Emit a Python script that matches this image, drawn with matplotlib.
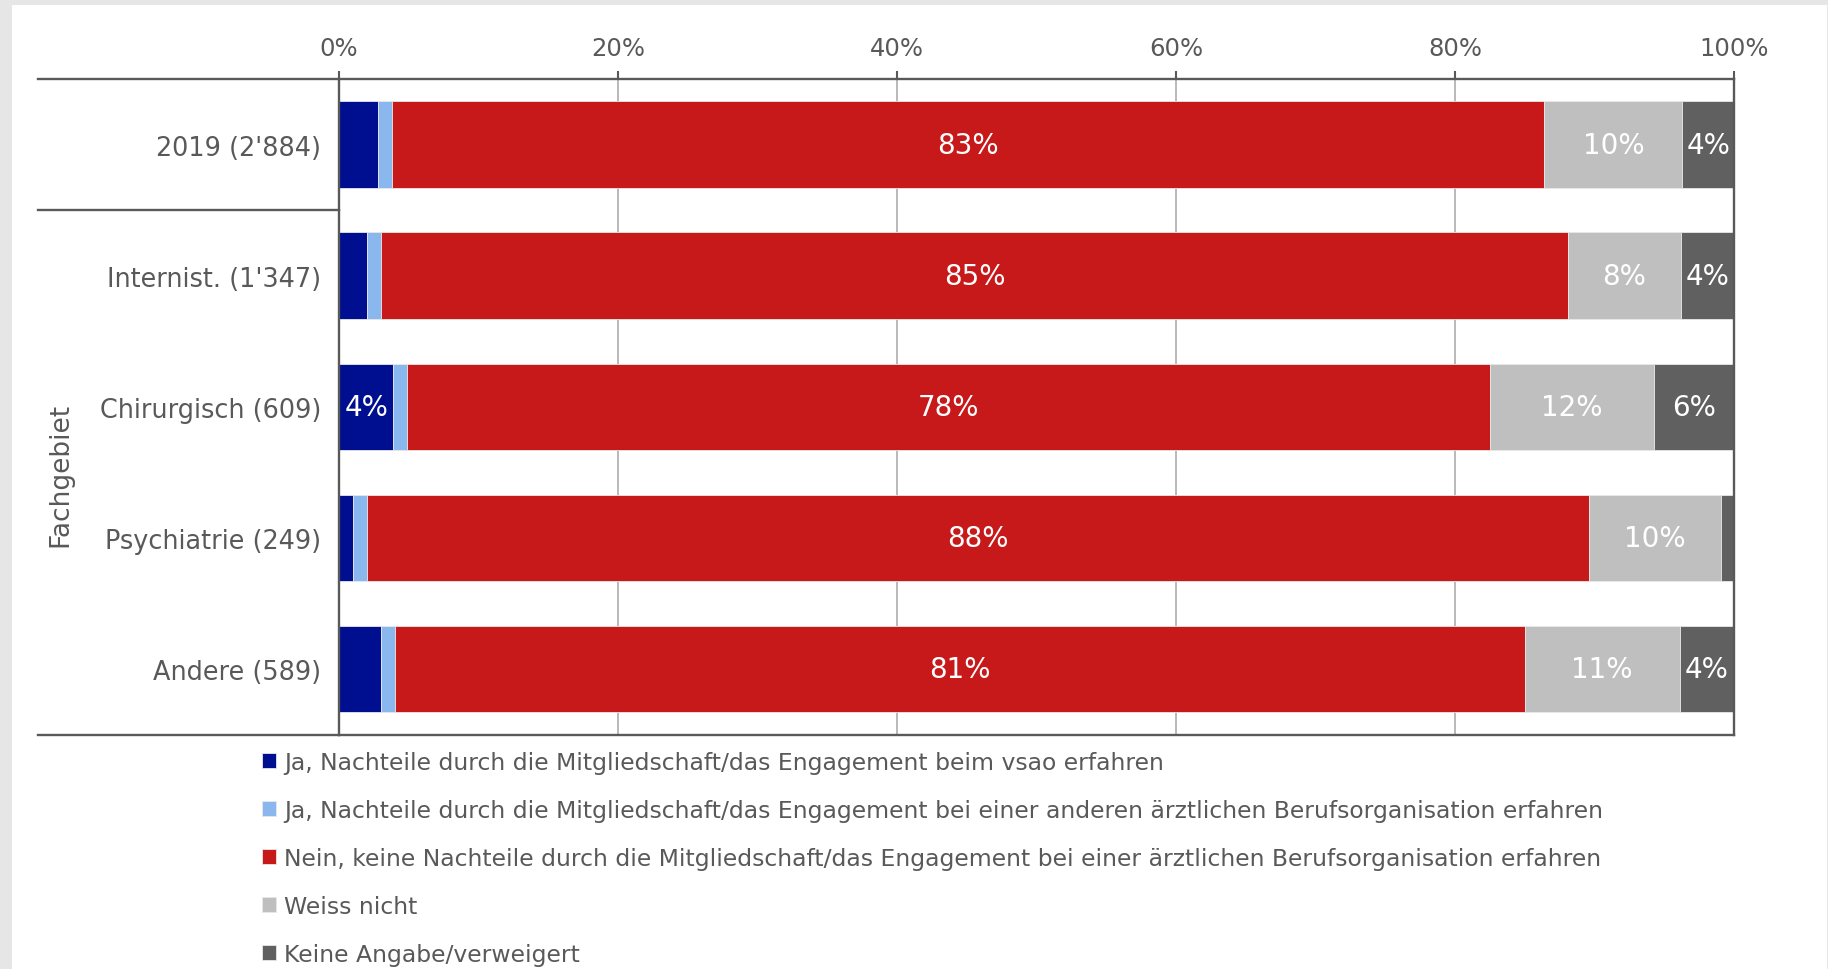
import matplotlib.pyplot as plt
from matplotlib.patches import Rectangle
from matplotlib.lines import Line2D

plt.rcParams['font.family'] = ['DejaVu Sans']

categories = ["2019 (2'884)", "Internist. (1'347)", "Chirurgisch (609)",
              "Psychiatrie (249)", "Andere (589)"]
series_names = [
    "Ja, Nachteile durch die Mitgliedschaft/das Engagement beim vsao erfahren",
    "Ja, Nachteile durch die Mitgliedschaft/das Engagement bei einer anderen ärztlichen Berufsorganisation erfahren",
    "Nein, keine Nachteile durch die Mitgliedschaft/das Engagement bei einer ärztlichen Berufsorganisation erfahren",
    "Weiss nicht",
    "Keine Angabe/verweigert",
]
ja_vsao = [2.8, 2.0, 3.9, 1.0, 3.0]
ja_andere = [1.0, 1.0, 1.0, 1.0, 1.0]
nein = [82.6, 85.1, 77.6, 87.6, 81.0]
weiss_nicht = [9.9, 8.1, 11.8, 9.5, 11.1]
keine_angabe = [3.7, 3.8, 5.7, 0.9, 3.9]
x_ticks = [0, 20, 40, 60, 80, 100]

colors = ['#000f8f', '#8ab8ee', '#c8191a', '#bfbfbf', '#606060']
text_grey = '#595959'
W, H = 1828, 970

fig = plt.figure(figsize=(W / 100, H / 100), dpi=100, facecolor='#e6e6e6')
fig.patches.append(Rectangle((12 / W, 0), 1 - 13 / W, 1 - 6 / H,
                             transform=fig.transFigure, facecolor='white',
                             edgecolor='none', zorder=-1))

x0, x1, y_top, y_bot = 339, 1734, 80, 735.6
ax = fig.add_axes([x0 / W, 1 - y_bot / H, (x1 - x0) / W, (y_bot - y_top) / H])
ax.set_facecolor('none')

series = [ja_vsao, ja_andere, nein, weiss_nicht, keine_angabe]
ypos = list(range(len(categories)))
left = [0.0] * len(categories)
handles = []
for vals, col, name in zip(series, colors, series_names):
    bars = ax.barh(ypos, vals, left=left, height=0.66, color=col,
                   edgecolor='#e8e8e8', linewidth=0.6, zorder=3, label=name)
    handles.append(bars)
    for y, v, l in zip(ypos, vals, left):
        if round(v) >= 4:
            ax.text(l + v / 2, y, f"{v:.0f}%", ha='center', va='center',
                    color='white', fontsize=20, zorder=4)
    left = [l + v for l, v in zip(left, vals)]

ax.set_xlim(0, 100)
ax.set_ylim(len(categories) - 0.5, -0.5)
ax.set_xticks(x_ticks)
ax.set_xticklabels([f"{t}%" for t in x_ticks])
ax.xaxis.tick_top()
ax.tick_params(axis='x', length=5.8, width=1.5, color=text_grey, pad=8,
               labelsize=17.5, labelcolor=text_grey)
ax.set_yticks(ypos)
ax.set_yticklabels(categories)
ax.tick_params(axis='y', length=0, pad=13, labelsize=18.4, labelcolor=text_grey)
ax.grid(axis='x', color='#a6a6a6', linewidth=1.1, zorder=1)
ax.grid(axis='y', visible=False)
for s in ax.spines.values():
    s.set_color(text_grey)
    s.set_linewidth(1.7)
    s.set_zorder(5)

# horizontal rules reaching out under the category labels
lx = (38 - x0) / (x1 - x0)
yt = ax.get_yaxis_transform()
for yy in [-0.5, 0.5, len(categories) - 0.5]:
    ax.add_line(Line2D([lx, 0], [yy, yy], transform=yt, color=text_grey,
                       linewidth=1.7, clip_on=False, zorder=5))

fig.text(60.6 / W, 1 - 474.5 / H, 'Fachgebiet', rotation=90, ha='center',
         va='center', fontsize=19, color=text_grey)

fig.legend(handles=handles, loc='upper left',
           bbox_to_anchor=(262 / W, 1 - 752 / H), bbox_transform=fig.transFigure,
           frameon=False, fontsize=16.9, labelcolor=text_grey, borderpad=0,
           borderaxespad=0, handlelength=0.6, handleheight=0.6,
           handletextpad=0.35, labelspacing=1.06)

fig.savefig('out.png', dpi=100, facecolor=fig.get_facecolor())
